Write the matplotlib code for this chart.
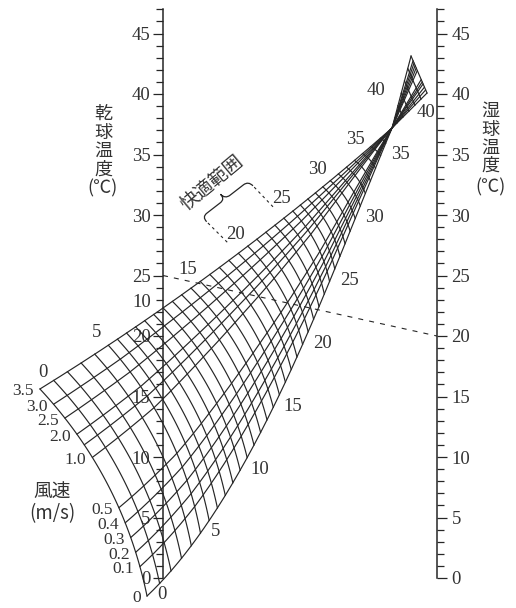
import numpy as np
import matplotlib
matplotlib.use("Agg")
import matplotlib.pyplot as plt
from matplotlib.path import Path
from matplotlib.patches import PathPatch
from matplotlib.ticker import FixedLocator

# ---------------- data ----------------
wind_speeds = [0.0, 0.1, 0.2, 0.3, 0.4, 0.5, 1.0, 1.5, 2.0, 2.5, 3.0, 3.5]
wind_labels = ["0", "0.1", "0.2", "0.3", "0.4", "0.5", "1.0", "", "2.0", "2.5", "3.0", "3.5"]
# wind-speed scale along the ET = 0 curve (0 -> 3.5 m/s edge, 1 -> still air edge)
wind_scale_v = [0.0, 0.1, 0.2, 0.3, 0.4, 0.5, 1.0, 1.5, 2.0, 2.5, 3.0, 3.5]
wind_scale_s = [1.0, 0.874, 0.811, 0.745, 0.678, 0.608, 0.364, 0.30, 0.245, 0.16, 0.085, 0.0]
# effective-temperature scale along the 3.5 m/s edge (fraction of its length)
et_scale_e = [0, 5, 10, 15, 20, 25, 30, 35, 37.2]
et_scale_f = [0, 0.185, 0.31, 0.44, 0.575, 0.705, 0.815, 0.935, 1.0]
et_lines = list(range(0, 44))
et_label_values = [0, 5, 10, 15, 20, 25, 30, 35]
et_upper_label = 40
dry_bulb_ticks = [0, 5, 10, 15, 20, 25, 30, 35, 40, 45]
wet_bulb_ticks = [0, 5, 10, 15, 20, 25, 30, 35, 40, 45]
scale_max = 47
comfort_range = (19, 24)
comfort_text = "快適範囲"
example_dry, example_wet = 25, 20

# ---------------- nomogram layout (units = degC of the scales) ----------------
U = 12.1                        # pixels per degree
XR = 22.64                      # position of the wet-bulb scale
ET_C = 37.2                     # convergence ET
ET_TOP = 43.0
C = np.array([18.93, 37.19])
L0 = np.array([-10.17, 15.62]); QL = np.array([5.29, 25.18])
R0 = np.array([-1.32, -1.49]); R1 = np.array([7.69, 7.02]); R2 = np.array([14.13, 25.79])
L_TOP = np.array([21.82, 40.08]); R_TOP = np.array([20.50, 43.14])
BOW = 0.14

INK = "#262626"
TXT = "#333333"
NUM_FONT = ["Liberation Serif", "DejaVu Serif"]
JP_FONT = ["Noto Sans CJK JP", "DejaVu Sans"]


def bez2(p0, p1, p2, t):
    t = np.asarray(t, float)[..., None]
    return (1 - t) ** 2 * p0 + 2 * t * (1 - t) * p1 + t ** 2 * p2


def bez3(p0, p1, p2, p3, t):
    t = np.asarray(t, float)[..., None]
    return ((1 - t) ** 3 * p0 + 3 * t * (1 - t) ** 2 * p1
            + 3 * t ** 2 * (1 - t) * p2 + t ** 3 * p3)


_tt = np.linspace(0, 1, 1200)
_Rcurve = bez3(R0, R1, R2, C, _tt)
_Lcurve = bez2(L0, QL, C, _tt)
_Larc = np.concatenate([[0], np.cumsum(np.hypot(*np.diff(_Lcurve, axis=0).T))])
_Larc /= _Larc[-1]


def edges(e):
    e = np.atleast_1d(np.asarray(e, float))
    L = np.empty((len(e), 2)); R = np.empty((len(e), 2))
    lo = e <= ET_C
    f = np.interp(e[lo], et_scale_e, et_scale_f)
    L[lo, 0] = np.interp(f, _Larc, _Lcurve[:, 0])
    L[lo, 1] = np.interp(f, _Larc, _Lcurve[:, 1])
    ry = R0[1] + (C[1] - R0[1]) * e[lo] / ET_C
    R[lo, 1] = ry
    R[lo, 0] = np.interp(ry, _Rcurve[:, 1], _Rcurve[:, 0])
    t2 = (e[~lo] - ET_C) / (ET_TOP - ET_C)
    L[~lo] = C + t2[:, None] * (L_TOP - C)
    R[~lo] = C + t2[:, None] * (R_TOP - C)
    return L, R


def ctrl(e):
    e = np.atleast_1d(np.asarray(e, float))
    L, R = edges(e)
    c = R - L
    k = np.where(e <= ET_C, BOW, 0.0)[:, None]
    return (L + R) / 2 + k * np.stack([-c[:, 1], c[:, 0]], axis=1)


def node(s, e):
    s = np.atleast_1d(np.asarray(s, float)); e = np.atleast_1d(np.asarray(e, float))
    s, e = np.broadcast_arrays(s, e)
    L, R = edges(e)
    M = ctrl(e)
    t = s[:, None]
    return (1 - t) ** 2 * L + 2 * t * (1 - t) * M + t ** 2 * R


def wind_s(v):
    return np.interp(v, wind_scale_v, wind_scale_s)


def unit(v):
    return v / np.hypot(*v)


# ---------------- figure ----------------
fig = plt.figure(figsize=(5.16, 6.08), dpi=100)
ax = fig.add_axes([0, 0, 1, 1])
ax.set_xlim(-163 / U, (516 - 163) / U)
ax.set_ylim(-30 / U, 578 / U)
ax.set_aspect("equal", adjustable="box")
ax.patch.set_visible(False)

# wind-speed curves
e_f = np.sort(np.append(np.linspace(0, ET_TOP, 700), ET_C))
for v in wind_speeds:
    p = node(wind_s(v), e_f)
    ax.plot(p[:, 0], p[:, 1], color=INK, lw=0.85, solid_capstyle="round")

# effective-temperature lines
s_f = np.linspace(0, 1, 120)
for e in et_lines:
    p = node(s_f, e)
    ax.plot(p[:, 0], p[:, 1], color=INK, lw=0.85)

# ---------------- scales ----------------
ax.spines["left"].set_position(("data", 0))
ax.spines["left"].set_bounds(0, scale_max)
for sp in ("right", "top", "bottom"):
    ax.spines[sp].set_visible(False)
ax.spines["left"].set_linewidth(1.1)
ax.spines["left"].set_color(INK)
ax.xaxis.set_visible(False)
ax.yaxis.set_major_locator(FixedLocator(dry_bulb_ticks))
ax.yaxis.set_minor_locator(FixedLocator(list(range(0, scale_max + 1))))
ax.tick_params(axis="y", which="major", direction="out", length=7.5, width=0.9,
               color=INK, labelsize=13.5, labelcolor=TXT, pad=1.5,
               labelfontfamily="Liberation Serif")
ax.tick_params(axis="y", which="minor", direction="out", length=5, width=0.9, color=INK)

ax2 = ax.twinx()
ax2.set_ylim(ax.get_ylim())
ax2.patch.set_visible(False)
for sp in ("left", "top", "bottom"):
    ax2.spines[sp].set_visible(False)
ax2.spines["right"].set_position(("data", XR))
ax2.spines["right"].set_bounds(0, scale_max)
ax2.spines["right"].set_linewidth(1.1)
ax2.spines["right"].set_color(INK)
ax2.yaxis.set_major_locator(FixedLocator(wet_bulb_ticks))
ax2.yaxis.set_minor_locator(FixedLocator(list(range(0, scale_max + 1))))
ax2.tick_params(axis="y", which="major", direction="out", length=7.5, width=0.9,
                color=INK, labelsize=13.5, labelcolor=TXT, pad=3,
                labelfontfamily="Liberation Serif")
ax2.tick_params(axis="y", which="minor", direction="out", length=5, width=0.9, color=INK)

# ---------------- labels on the grid ----------------
D = 17 / U
for e in et_label_values:
    Lp = node(0, e)[0]
    ext = unit(Lp - ctrl(e)[0]) if e > 0 else np.array([0.2, 1.0])
    p = Lp + D * unit(ext)
    ax.text(p[0], p[1], str(e), fontsize=13.5, family=NUM_FONT, color=TXT,
            ha="center", va="center")
    q = node(1, e)[0]
    ax.text(q[0] + 0.85, q[1] + 0.1, str(e), fontsize=13.5, family=NUM_FONT, color=TXT,
            ha="left", va="center")
# upper fan (beyond the convergence point)
pl = node(1, et_upper_label)[0]
ax.text(pl[0] - 1.3, pl[1] + 0.2, str(et_upper_label), fontsize=13.5, family=NUM_FONT,
        color=TXT, ha="right", va="center")
pr = node(0, et_upper_label)[0]
ax.text(pr[0] + 0.6, pr[1] - 0.1, str(et_upper_label), fontsize=13.5, family=NUM_FONT,
        color=TXT, ha="left", va="center")

for v, lab in zip(wind_speeds, wind_labels):
    if not lab:
        continue
    p = node(wind_s(v), 0)[0]
    ax.text(p[0] - 0.5, p[1] - 0.2, lab, fontsize=12.5, family=NUM_FONT,
            color=TXT, ha="right", va="center")

# example reading line
ax.plot([0, XR], [example_dry, example_wet], color=INK, lw=0.8,
        dashes=(4.5, 5.5))

# comfort range: dashed ET extensions + brace + text
ends = []
for e in comfort_range:
    Lp = node(0, e)[0]
    ext = unit(Lp - ctrl(e)[0])
    a = Lp + 1.3 * ext; b = Lp + 3.7 * ext
    ax.plot([a[0], b[0]], [a[1], b[1]], color=INK, lw=0.8, dashes=(2.5, 3.0))
    ends.append((b, ext))
A, extA = ends[0]; B, extB = ends[1]
d = unit(B - A)
nrm = unit(extA + extB)
h = 0.55; q = 0.5
mid = (A + B) / 2
verts = [A, A + h * nrm, A + h * nrm + q * d,
         mid - q * d + h * nrm, mid + h * nrm, mid + 2 * h * nrm,
         mid + h * nrm, mid + q * d + h * nrm,
         B - q * d + h * nrm, B + h * nrm, B]
codes = [Path.MOVETO, Path.CURVE3, Path.CURVE3, Path.LINETO, Path.CURVE3, Path.CURVE3,
         Path.CURVE3, Path.CURVE3, Path.LINETO, Path.CURVE3, Path.CURVE3]
ax.add_patch(PathPatch(Path(verts, codes), fill=False, edgecolor=INK, lw=0.9))
tp = mid + 2.3 * nrm + 0.2 * d
ang = np.degrees(np.arctan2(d[1], d[0])) + 2
ax.text(tp[0], tp[1], comfort_text, fontsize=13.5, family=JP_FONT, color=TXT,
        rotation=ang, rotation_mode="anchor", ha="center", va="center")

# ---------------- axis titles ----------------
def vlabel(x, y_top, chars, gaps):
    y = y_top
    for ch, g in zip(chars, gaps):
        ax.text(x, y, ch, fontsize=13, family=JP_FONT, color=TXT,
                ha="center", va="center")
        y -= g

vlabel(-60 / U, (578 - 114) / U, ["乾", "球", "温", "度", "(℃)"], [1.53, 1.53, 1.5, 1.6, 0])
vlabel((490 - 163) / U, (578 - 111) / U, ["湿", "球", "温", "度", "(℃)"], [1.53, 1.5, 1.5, 1.75, 0])
ax.text(-111 / U, (578 - 492) / U, "風速", fontsize=13.5, family=JP_FONT, color=TXT,
        ha="center", va="center")
ax.text(-111 / U, (578 - 514) / U, "(m/s)", fontsize=13.5, family=JP_FONT, color=TXT,
        ha="center", va="center")

fig.savefig("out.png", dpi=100)
